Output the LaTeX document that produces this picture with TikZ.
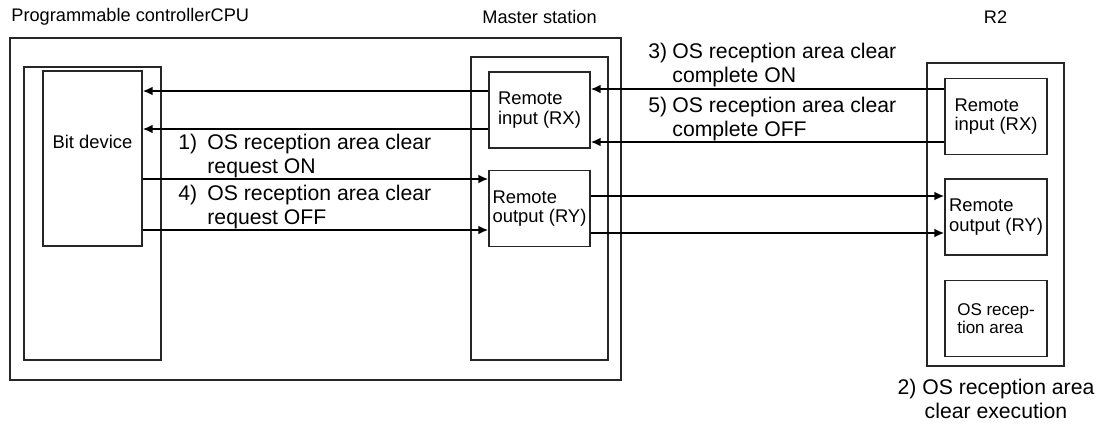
\documentclass[tikz,border=0pt]{standalone}
\usepackage{fontspec}
\setmainfont{Liberation Sans}
\usetikzlibrary{arrows.meta,positioning}

\begin{document}
\begin{tikzpicture}[
  x=0.5pt,y=-0.5pt,
  font=\fontsize{9.2}{9.8}\selectfont,
  frame/.style={draw=black!85,line width=0.7pt,inner sep=0pt},
  reg/.style={frame,align=left,minimum width=50.5pt,minimum height=38pt},
  note/.style={font=\fontsize{10.6}{12}\selectfont,align=left,inner sep=0pt},
  head/.style={inner sep=0pt,font=\fontsize{9.1}{10}\selectfont},
  arr/.style={-{Latex[length=5pt,width=4.5pt]},line width=1.1pt}
]
\useasboundingbox (0,0) rectangle (1106,423);
% programmable controller CPU
\node[frame,minimum width=305.5pt,minimum height=171pt] (plc) at (315.5,209) {};
\node[frame,minimum width=68.5pt,minimum height=146.5pt] (cpu) at (92.5,213.5) {};
\node[frame,minimum width=49.5pt,minimum height=87.5pt] (bit) at (92.5,158.5) {};
\node (bittxt) at ([yshift=8.2pt]bit.center) {Bit device};
% master station
\node[frame,minimum width=68.5pt,minimum height=151.5pt] (mst) at (539.5,208.5) {};
\node[reg] (rxm) at (539.5,110) {Remote\\input (RX)};
\node[reg,below=10.5pt of rxm] (rym) {Remote\\output (RY)};
% remote device station
\node[frame,minimum width=68.5pt,minimum height=151.5pt] (rtwo) at (995.5,214.5) {};
\node[reg,minimum width=51pt] (rxr) at (996,116.5) {Remote\\input (RX)};
\node[reg,minimum width=51pt,below=11.5pt of rxr] (ryr) {Remote\\output (RY)};
\node[reg,minimum width=51pt,below=12pt of ryr,font=\fontsize{8.5}{9}\selectfont] (osa) {OS recep-\\tion area};
% headings
\node[head,anchor=west] (ttlplc) at (11,17) {Programmable controllerCPU};
\node[head] (ttlmst) at (mst.center |- 0,17) {Master station};
\node[head] (ttlrtwo) at (rtwo.center |- 0,17) {R2};
% signals
\draw[arr] (rxm.west |- 0,91) -- (bit.east |- 0,91);
\draw[arr] (rxm.west |- 0,129) -- (bit.east |- 0,129);
\draw[arr] (bit.east |- 0,179) -- (rym.west |- 0,179);
\draw[arr] (bit.east |- 0,230) -- (rym.west |- 0,230);
\draw[arr] (rxr.west |- 0,89) -- (rxm.east |- 0,89);
\draw[arr] (rxr.west |- 0,142) -- (rxm.east |- 0,142);
\draw[arr] (rym.east |- 0,196) -- (ryr.west |- 0,196);
\draw[arr] (rym.east |- 0,233) -- (ryr.west |- 0,233);
% labels
\node[note,anchor=north west] (reqon) at (178,134) {\makebox[14.5pt][l]{1)}OS reception area clear\\\hspace*{14.5pt}request ON};
\node[note,anchor=north west] (reqoff) at (178,184.5) {\makebox[14.5pt][l]{4)}OS reception area clear\\\hspace*{14.5pt}request OFF};
\node[note,anchor=north west] (cplon) at (648,42.5) {\makebox[12pt][l]{3)}OS reception area clear\\\hspace*{12pt}complete ON};
\node[note,anchor=north west] (cploff) at (648,96.5) {\makebox[12pt][l]{5)}OS reception area clear\\\hspace*{12pt}complete OFF};
\node[note,align=center] (clrexec) at (996,399) {2) OS reception area\\clear execution};
\end{tikzpicture}
\end{document}
